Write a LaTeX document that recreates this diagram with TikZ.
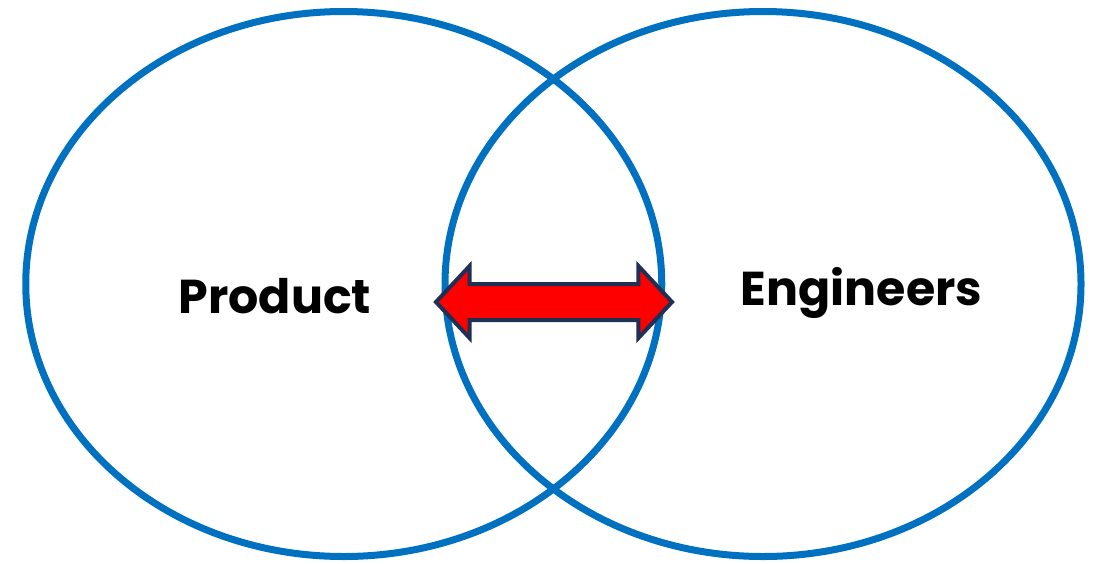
\documentclass[tikz,border=0pt]{standalone}
\usepackage{fontspec}
\setmainfont{Poppins}
\usetikzlibrary{shapes.geometric}
\usetikzlibrary{shapes.arrows}
\definecolor{vennblue}{RGB}{0,112,192}
\definecolor{navy}{RGB}{31,48,84}

\begin{document}
\begin{tikzpicture}[x=1pt,y=-1pt,
  venn/.style={draw=vennblue,line width=7pt,ellipse,inner sep=0pt,minimum width=636pt,minimum height=545pt},
  team/.style={anchor=base,inner sep=0pt,font=\fontsize{47.5}{52}\selectfont\bfseries},
  link/.style={double arrow,draw=navy,fill=red,line width=4pt,line join=miter,inner xsep=0pt,inner ysep=16pt,
    minimum height=236pt,double arrow head extend=18pt,double arrow tip angle=94}]
  \useasboundingbox (0,0) rectangle (1099,563);
  \node[venn] (prod) at (343.75,284) {};
  \node[venn] (eng) at (763,284) {};
  \node[link] (arr) at (554,302) {};
  \node[team] (p) at (275,313) {Product};
  \node[team] (e) at (861.5,305) {Engineers};
\end{tikzpicture}
\end{document}
